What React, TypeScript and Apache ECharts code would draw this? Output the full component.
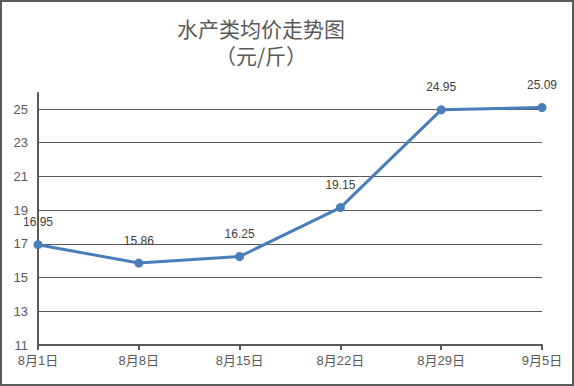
import React, { useEffect, useRef } from "react";
import * as echarts from "echarts";

const categories = ["8月1日", "8月8日", "8月15日", "8月22日", "8月29日", "9月5日"];
const prices = [16.95, 15.86, 16.25, 19.15, 24.95, 25.09];
const titleLines = ["水产类均价走势图", "（元/斤）"];
const yMin = 11;
const yMax = 25;
const yAxisTop = 26;
const yInterval = 2;

export default function App() {
  const ref = useRef<HTMLDivElement>(null);
  useEffect(() => {
    document.body.style.margin = "0";
    const chart = echarts.init(ref.current!, null, { renderer: "svg" });
    const font = "'Liberation Sans', 'Noto Sans CJK SC', sans-serif";
    const titleStyle = {
      fill: "#595959",
      fontSize: 21,
      fontFamily: "'Noto Sans CJK SC', sans-serif",
      align: "center",
      verticalAlign: "middle",
    };
    chart.setOption({
      animation: false,
      backgroundColor: "#ffffff",
      graphic: [
        { type: "text", x: 259, y: 26, style: { ...titleStyle, text: titleLines[0] } },
        { type: "text", x: 259, y: 53, style: { ...titleStyle, text: titleLines[1] } },
      ],
      grid: [
        { left: 36, right: 30, top: 107, bottom: 39 },
        { left: 36, right: 30, top: 91, bottom: 39 },
      ],
      xAxis: [
        {
          gridIndex: 0,
          type: "category",
          data: categories,
          boundaryGap: false,
          axisLine: { lineStyle: { color: "#595959", width: 2 } },
          axisTick: { show: true, length: 5, lineStyle: { color: "#595959", width: 2 } },
          axisLabel: { color: "#595959", fontSize: 13, margin: 9, fontFamily: font },
        },
        {
          gridIndex: 1,
          type: "category",
          data: categories,
          boundaryGap: false,
          show: false,
        },
      ],
      yAxis: [
        {
          gridIndex: 0,
          type: "value",
          min: yMin,
          max: yMax,
          interval: yInterval,
          axisLine: { show: false },
          axisTick: { show: false },
          axisLabel: { color: "#595959", fontSize: 13, margin: 10, fontFamily: font },
          splitLine: { show: true, lineStyle: { color: "#595959", width: 1 } },
        },
        {
          gridIndex: 1,
          type: "value",
          min: yMin,
          max: yAxisTop,
          axisLine: { show: true, lineStyle: { color: "#595959", width: 2 } },
          axisTick: { show: false },
          axisLabel: { show: false },
          splitLine: { show: false },
        },
      ],
      series: [
        {
          type: "line",
          xAxisIndex: 0,
          yAxisIndex: 0,
          data: prices,
          clip: false,
          symbol: "circle",
          symbolSize: 9,
          lineStyle: { color: "#4a7ebb", width: 3 },
          itemStyle: { color: "#4a7ebb" },
          label: {
            show: true,
            position: "top",
            distance: 12,
            color: "#404040",
            fontSize: 12,
            fontFamily: font,
            formatter: (p: any) => p.value.toFixed(2),
          },
        },
      ],
    });
    return () => chart.dispose();
  }, []);
  return (
    <div
      style={{
        position: "fixed",
        left: 0,
        top: 0,
        width: 574,
        height: 386,
        border: "2px solid #595959",
        boxSizing: "border-box",
        background: "#fff",
      }}
    >
      <div ref={ref} style={{ width: 570, height: 382 }} />
    </div>
  );
}
